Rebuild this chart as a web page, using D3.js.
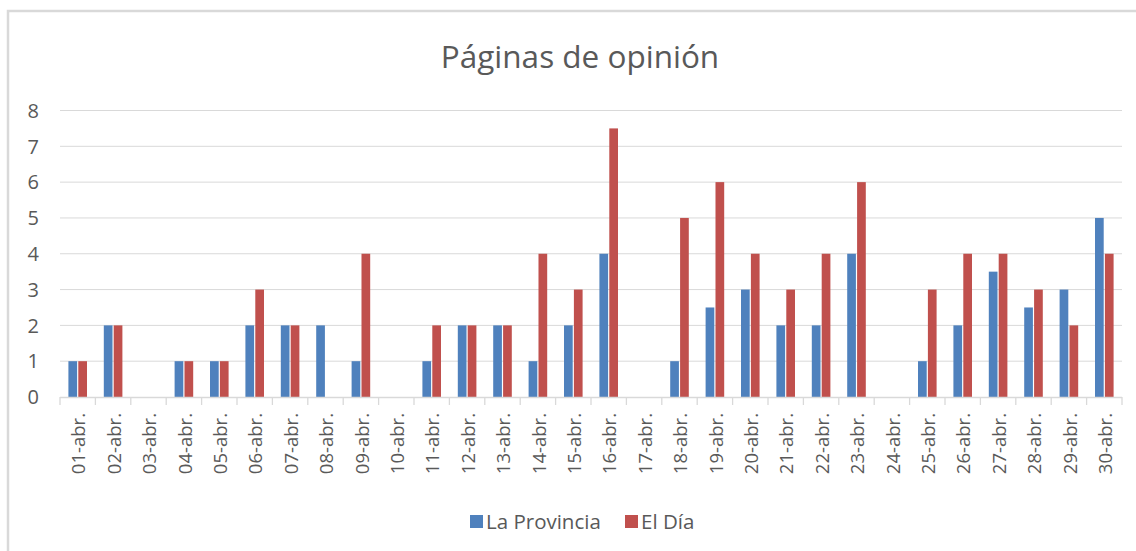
<!DOCTYPE html>
<html><head><meta charset="utf-8">
<script src="https://cdn.jsdelivr.net/npm/d3@7"></script>
<style>body{margin:0;background:#fff}svg{display:block}</style>
</head><body>
<svg id="c" width="1136" height="551"></svg>
<script>
const categories = ["01-abr.","02-abr.","03-abr.","04-abr.","05-abr.","06-abr.","07-abr.","08-abr.","09-abr.","10-abr.","11-abr.","12-abr.","13-abr.","14-abr.","15-abr.","16-abr.","17-abr.","18-abr.","19-abr.","20-abr.","21-abr.","22-abr.","23-abr.","24-abr.","25-abr.","26-abr.","27-abr.","28-abr.","29-abr.","30-abr."];
const laProvincia = [1,2,0,1,1,2,2,2,1,0,1,2,2,1,2,4,0,1,2.5,3,2,2,4,0,1,2,3.5,2.5,3,5];
const elDia = [1,2,0,1,1,3,2,0,4,0,2,2,2,4,3,7.5,0,5,6,4,3,4,6,0,3,4,4,3,2,4];
const seriesNames = ["La Provincia","El Día"];
const colors = ["#4f81bd","#c0504d"];
const yTicks = [0,1,2,3,4,5,6,7,8];

(function(){
const svg = d3.select("#c");
const font = "'Open Sans', 'Noto Sans', sans-serif";
const textColor = "#595959";
const gridColor = "#d9d9d9";

// frame
svg.append("path").attr("d","M8,551 V11 H1136").attr("fill","none").attr("stroke","#d9d9d9").attr("stroke-width",2.5);

const mLeft = 60, mRight = 1122, mTop = 110.5, mBottom = 397;
const x = d3.scaleBand().domain(categories).range([mLeft,mRight]).padding(0);
const y = d3.scaleLinear().domain([0,8]).range([mBottom,mTop]);
const xs = d3.scaleBand().domain(seriesNames).range([0,x.bandwidth()]).paddingInner(0.12).paddingOuter(0.85);

// grid
svg.append("g").selectAll("line").data(yTicks.filter(d=>d>0)).join("line")
  .attr("x1",mLeft).attr("x2",mRight).attr("y1",d=>y(d)).attr("y2",d=>y(d))
  .attr("stroke",gridColor).attr("stroke-width",1);

// y labels
svg.append("g").selectAll("text").data(yTicks).join("text")
  .attr("x",39).attr("y",d=>y(d)).attr("dy","0.36em").attr("text-anchor","end")
  .attr("font-family",font).attr("font-size",20).attr("fill",textColor).text(d=>d);

// bars
const data = categories.map((c,i)=>({c, vals:[laProvincia[i], elDia[i]]}));
const g = svg.append("g");
g.selectAll("g").data(data).join("g").attr("transform",d=>`translate(${x(d.c)},0)`)
  .selectAll("rect").data(d=>d.vals.map((v,j)=>({name:seriesNames[j],v,j}))).join("rect")
  .attr("x",d=>xs(d.name)).attr("width",xs.bandwidth())
  .attr("y",d=>y(d.v)).attr("height",d=>y(0)-y(d.v))
  .attr("fill",d=>colors[d.j]);

// x axis
const ax = svg.append("g").attr("transform",`translate(0,${mBottom})`);
ax.append("line").attr("x1",mLeft).attr("x2",mRight).attr("y1",0.5).attr("y2",0.5).attr("stroke",gridColor).attr("stroke-width",1.3);
const bounds = d3.range(categories.length+1).map(i=>mLeft + i*x.step());
ax.selectAll("line.tk").data(bounds).join("line").attr("class","tk")
  .attr("x1",d=>d).attr("x2",d=>d).attr("y1",0).attr("y2",8).attr("stroke",gridColor).attr("stroke-width",1.3);
ax.selectAll("text").data(categories).join("text")
  .attr("transform",d=>`translate(${x(d)+x.bandwidth()/2+1},16) rotate(-90)`)
  .attr("text-anchor","end").attr("dy","0.36em")
  .attr("font-family",font).attr("font-size",18.5).attr("fill",textColor).text(d=>d);

// title
svg.append("text").attr("x",580).attr("y",68).attr("text-anchor","middle")
  .attr("font-family",font).attr("font-size",31.5).attr("fill",textColor).text("Páginas de opinión");

// legend
const legX = [470, 625];
const lg = svg.append("g");
seriesNames.forEach((n,i)=>{
  lg.append("rect").attr("x",legX[i]).attr("y",515).attr("width",13).attr("height",13).attr("fill",colors[i]);
  lg.append("text").attr("x",legX[i]+16).attr("y",522).attr("dy","0.36em")
    .attr("font-family",font).attr("font-size",20.5).attr("fill",textColor).text(n);
});
})();
</script>
</body></html>
